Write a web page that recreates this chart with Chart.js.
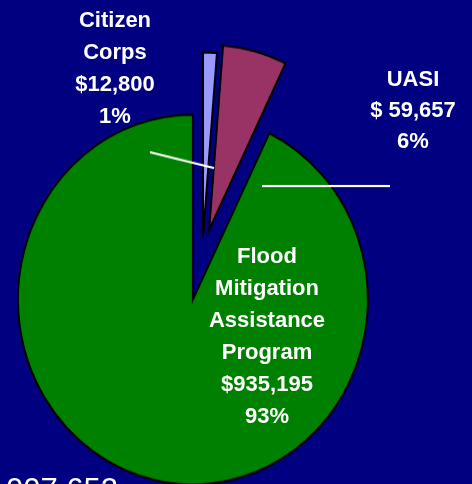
<!DOCTYPE html>
<html>
<head>
<meta charset="utf-8">
<script src="https://cdn.jsdelivr.net/npm/chart.js@4.4.1/dist/chart.umd.min.js"></script>
<style>
  html, body { margin: 0; padding: 0; }
  body {
    width: 472px; height: 484px; overflow: hidden; position: relative;
    background: #000080; color: #fff;
    font-family: "Liberation Sans", Arial, sans-serif;
  }
  /* the original pie is slightly taller than wide */
  #wrap { position: absolute; left: 0; top: 0; width: 472px; height: 458px; transform: scaleY(1.0568); transform-origin: 0 0; }
  .lbl { position: absolute; width: 200px; font-weight: bold; font-size: 22px; line-height: 32px; text-align: center; white-space: nowrap; }
  #total { position: absolute; left: -182px; top: 473.5px; width: 300px; font-size: 31px; line-height: 31px; text-align: right; white-space: nowrap; }
</style>
</head>
<body>
<div id="wrap"><canvas id="pie" width="472" height="458"></canvas></div>
<div id="total"></div>
<script>
// funding by program, clockwise from 12 o'clock
const programs = ['Citizen\nCorps', 'UASI', 'Flood\nMitigation\nAssistance\nProgram'];
const amounts = [12800, 59657, 935195];
const amountLabels = ['$12,800', '$ 59,657', '$935,195'];
const sliceColors = ['#9999FF', '#993366', '#008000'];

// explode distance of each slice (px)
const explode = [18, 26, 42];

// label boxes: centre x, top y, line height
const labelPos = [
    { cx: 115, top: 3.8, lh: 32 },
    { cx: 413, top: 62.6, lh: 31 },
    { cx: 267, top: 240.4, lh: 32 }
];

// white leader lines, canvas coordinates
const leaders = [
    [[150, 144], [214, 159]],
    [[262, 176], [390, 176]]
];

const total = amounts.reduce((a, b) => a + b, 0);

const explodePlugin = {
    id: 'explode',
    afterDatasetsUpdate(chart) {
        chart.getDatasetMeta(0).data.forEach((arc, i) => {
            const mid = (arc.startAngle + arc.endAngle) / 2;
            arc.x += Math.cos(mid) * explode[i];
            arc.y += Math.sin(mid) * explode[i];
        });
    }
};

const leaderPlugin = {
    id: 'leaders',
    afterDatasetsDraw(chart) {
        const ctx = chart.ctx;
        ctx.save();
        ctx.strokeStyle = '#fff';
        ctx.lineWidth = 2;
        leaders.forEach(([a, b]) => {
            ctx.beginPath();
            ctx.moveTo(a[0], a[1]);
            ctx.lineTo(b[0], b[1]);
            ctx.stroke();
        });
        ctx.restore();
    }
};

new Chart(document.getElementById('pie'), {
    type: 'pie',
    data: {
        labels: programs.map(p => p.replace(/\n/g, ' ')),
        datasets: [{
            data: amounts,
            backgroundColor: sliceColors,
            borderColor: '#000',
            borderWidth: 2,
            borderJoinStyle: 'miter',
            radius: 175
        }]
    },
    options: {
        responsive: false,
        animation: false,
        events: [],
        layout: { padding: { left: 0, right: 67.4, top: 27, bottom: 0 } },
        plugins: {
            legend: { display: false },
            tooltip: { enabled: false }
        }
    },
    plugins: [explodePlugin, leaderPlugin]
});

// slice labels
programs.forEach((name, i) => {
    const pct = Math.round(amounts[i] / total * 100) + '%';
    const div = document.createElement('div');
    div.className = 'lbl';
    div.style.left = (labelPos[i].cx - 100) + 'px';
    div.style.top = labelPos[i].top + 'px';
    div.style.lineHeight = labelPos[i].lh + 'px';
    div.innerHTML = [...name.split('\n'), amountLabels[i], pct].join('<br>');
    document.body.appendChild(div);
});

document.getElementById('total').textContent = '$' + total.toLocaleString('en-US');
</script>
</body>
</html>
